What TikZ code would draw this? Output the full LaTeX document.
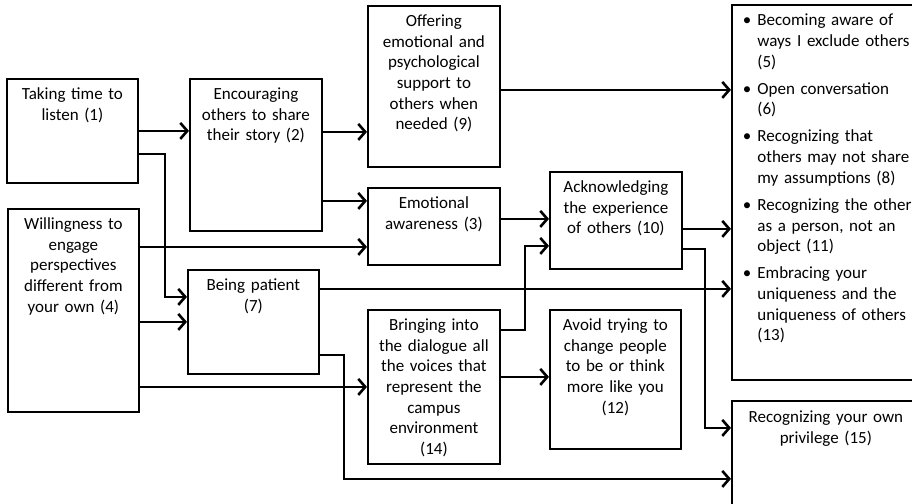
\documentclass[tikz,border=0pt]{standalone}
\usepackage{fontspec}
\setmainfont{Carlito}
\usetikzlibrary{arrows.meta}

\begin{document}
\begin{tikzpicture}[x=1pt,y=-1pt,
  box/.style={draw,line width=1.8pt,anchor=north west,align=center,
    font=\fontsize{17}{20.7}\selectfont,text width=125pt,
    inner xsep=3pt,inner ysep=4pt,text height=16.5pt,text depth=#1},
  arr/.style={line width=2.6pt,-{Straight Barb[length=7pt,width=16pt]}}]

\useasboundingbox (0,0) rectangle (912,503);

% Draw the first column
\node[box=79.5pt] (listen) at (6,78) {Taking time to\\ listen (1)};
\node[box=178.5pt] (willing) at (7,208) {Willingness to\\ engage\\ perspectives\\ different from\\ your own (4)};
% Draw the second column
\node[box=127.5pt,text width=126pt] (share) at (189,78) {Encouraging\\ others to share\\ their story (2)};
\node[box=79.5pt] (patient) at (187,269) {Being patient\\ (7)};
% Draw the third column
\node[box=136.5pt,text width=126pt] (support) at (367,5) {Offering\\ emotional and\\ psychological\\ support to\\ others when\\ needed (9)};
\node[box=52.5pt,text width=126pt] (aware) at (367,187) {Emotional\\ awareness (3)};
\node[box=129.5pt,text width=126pt] (voices) at (367,309) {Bringing into\\ the dialogue all\\ the voices that\\ represent the\\ campus\\ environment\\ (14)};
% Draw the fourth column
\node[box=72.5pt,text width=126pt] (acknow) at (549,171) {Acknowledging\\ the experience\\ of others (10)};
\node[box=114.5pt] (avoid) at (549,309) {Avoid trying to\\ change people\\ to be or think\\ more like you\\ (12)};
% Draw the outcome boxes
\node[box=350pt,text height=17pt,text width=182pt,align=left] (outcomes) at (731,4) {%
  \begin{tabular}[t]{@{\hspace{8pt}}p{14.5pt}@{}l@{}}
  \textbullet & Becoming aware of\\ & ways I exclude others\\ & (5)\\[6.3pt]
  \textbullet & Open conversation\\ & (6)\\[6.3pt]
  \textbullet & Recognizing that\\ & others may not share\\ & my assumptions (8)\\[6.3pt]
  \textbullet & Recognizing the other\\ & as a person, not an\\ & object (11)\\[6.3pt]
  \textbullet & Embracing your\\ & uniqueness and the\\ & uniqueness of others\\ & (13)
  \end{tabular}};
\node[box=104pt,text height=18pt,text width=182pt] (privilege) at (731,400) {Recognizing your own\\ privilege (15)};

% Arrows out of the first column
\draw[arr] (listen.east) -- (listen.east -| share.west);
\draw[arr] ([yshift=-23pt]listen.east) -- ++(26,0) |- ([yshift=25pt]patient.west);
\draw[arr] ([yshift=63.5pt]willing.east) -- ([yshift=63.5pt]willing.east -| aware.west);
\draw[arr] (patient.west -| willing.east) -- (patient.west);
\draw[arr] (voices.west -| willing.east) -- (voices.west);
% Arrows out of the second column
\draw[arr] ([yshift=23pt]share.east) -- ([yshift=23pt]share.east -| support.west);
\draw[arr] ([yshift=-46pt]share.east) -- ([yshift=-46pt]share.east -| aware.west);
\draw[arr] ([yshift=33pt]patient.east) -- ([yshift=33pt]patient.east -| outcomes.west);
\draw[arr] ([yshift=-33pt]patient.east) -- ++(24,0) |- ([yshift=-13pt]privilege.west);
% Arrows out of the third column
\draw[arr] ([yshift=-3.5pt]support.east) -- ([yshift=-3.5pt]support.east -| outcomes.west);
\draw[arr] ([yshift=7.5pt]aware.east) -- ([yshift=7.5pt]aware.east -| acknow.west);
\draw[arr] ([yshift=57pt]voices.east) -- ++(24,0) |- ([yshift=-25.5pt]acknow.west);
\draw[arr] ([yshift=10pt]voices.east) -- ([yshift=10pt]voices.east -| avoid.west);
% Arrows out of the fourth column
\draw[arr] ([yshift=-8.5pt]acknow.east) -- ([yshift=-8.5pt]acknow.east -| outcomes.west);
\draw[arr] ([yshift=-28.5pt]acknow.east) -- ++(22,0) |- ([yshift=38pt]privilege.west);

\end{tikzpicture}
\end{document}
